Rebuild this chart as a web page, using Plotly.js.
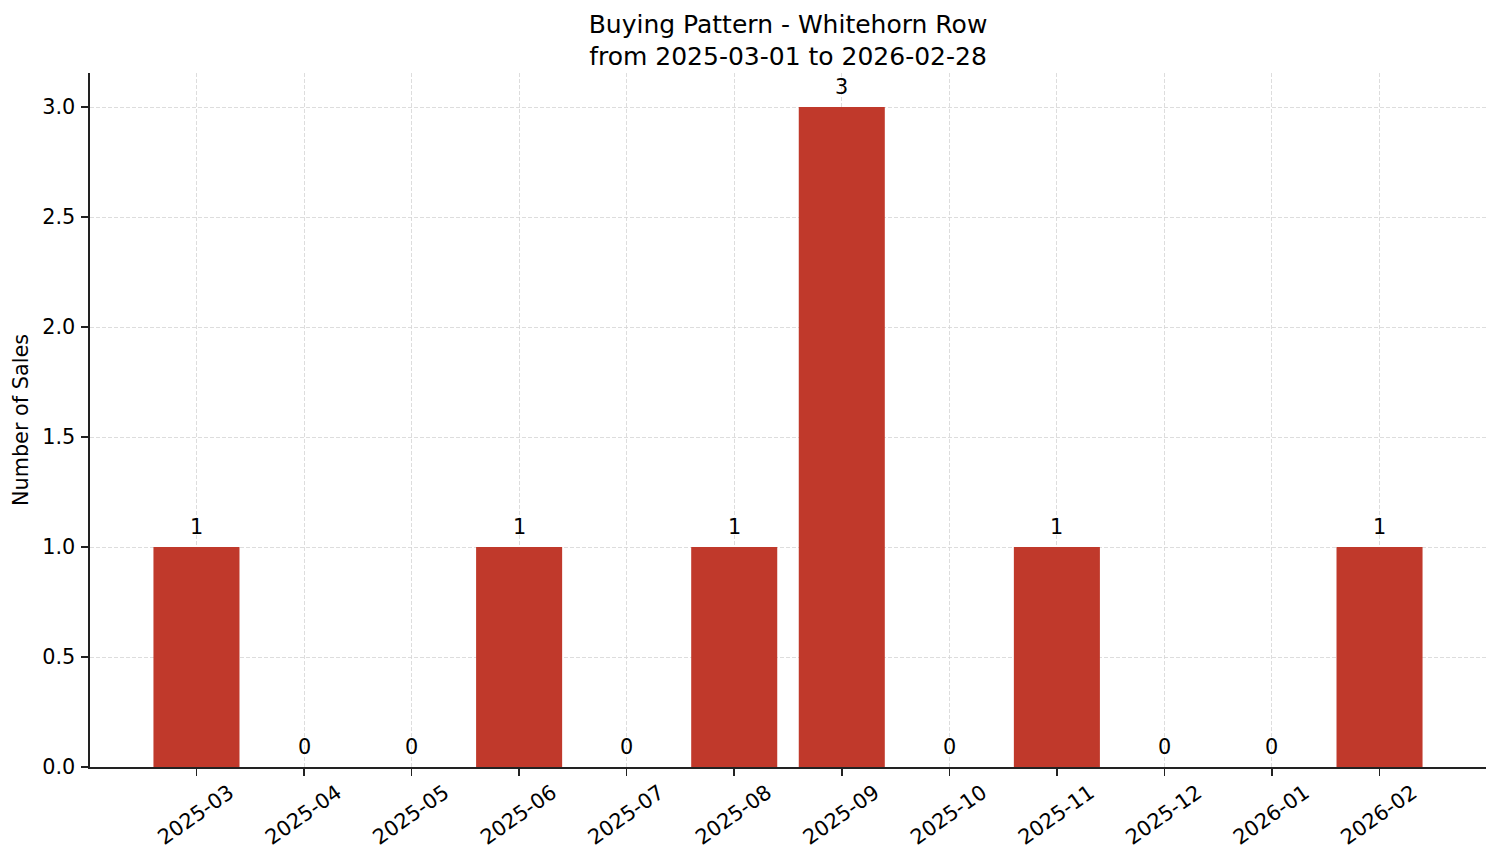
<!DOCTYPE html>
<html>
<head>
<meta charset="utf-8">
<script src="https://cdn.plot.ly/plotly-3.0.1.min.js"></script>
<style>html,body{margin:0;padding:0;background:#fff;}#chart{width:1501px;height:863px;}</style>
</head>
<body>
<div id="chart"></div>
<script>
const months = ["2025-03","2025-04","2025-05","2025-06","2025-07","2025-08","2025-09","2025-10","2025-11","2025-12","2026-01","2026-02"];
const sales = [1,0,0,1,0,1,3,0,1,0,0,1];
const yTicks = [0,0.5,1,1.5,2,2.5,3];
const yTickLabels = ["0.0","0.5","1.0","1.5","2.0","2.5","3.0"];
const chartTitle = "Buying Pattern - Whitehorn Row<br>from 2025-03-01 to 2026-02-28";
const yLabel = "Number of Sales";

const FONT = "DejaVu Sans, sans-serif";
const barColor = "#c0392b";

const trace = {
  type: "bar",
  x: months,
  y: sales,
  marker: {color: barColor, line: {width: 0}},
  hoverinfo: "x+y"
};

const annotations = months.map((m, i) => ({
  x: m, y: sales[i], xref: "x", yref: "y",
  text: String(sales[i]), showarrow: false,
  yanchor: "bottom", xanchor: "center", yshift: 6,
  font: {family: FONT, size: 20.8, color: "#000"}
}));

const layout = {
  width: 1501, height: 863,
  paper_bgcolor: "#fff", plot_bgcolor: "#fff",
  margin: {l: 90, r: 15, t: 73, b: 96},
  font: {family: FONT, size: 20.8, color: "#000"},
  title: {text: chartTitle, x: 0.5, xref: "paper", xanchor: "center",
          y: 0.962, yref: "container", yanchor: "top",
          font: {family: FONT, size: 25, color: "#000"}},
  bargap: 0.2,
  showlegend: false,
  xaxis: {
    type: "category", range: [-0.99, 11.99],
    showline: true, linecolor: "#222", linewidth: 1.6, mirror: false,
    ticks: "outside", ticklen: 7, tickwidth: 1.6, tickcolor: "#222",
    tickangle: -35, ticklabelshift: 33, ticklabelstandoff: -3,
    showgrid: true, gridcolor: "#d4d4d4", gridwidth: 0.8, griddash: "4px,2px",
    zeroline: false,
    tickfont: {family: FONT, size: 20.8, color: "#000"}
  },
  yaxis: {
    range: [0, 3.155], tickvals: yTicks, ticktext: yTickLabels,
    showline: true, linecolor: "#222", linewidth: 1.6, mirror: false,
    ticks: "outside", ticklen: 7, tickwidth: 1.6, tickcolor: "#222",
    ticklabelstandoff: 2,
    showgrid: true, gridcolor: "#d4d4d4", gridwidth: 0.8, griddash: "4px,2px",
    zeroline: false,
    title: {text: yLabel, font: {family: FONT, size: 20.8, color: "#000"}, standoff: 8},
    tickfont: {family: FONT, size: 20.8, color: "#000"}
  },
  annotations: annotations
};

Plotly.newPlot("chart", [trace], layout, {displayModeBar: false, staticPlot: true});
</script>
</body>
</html>
